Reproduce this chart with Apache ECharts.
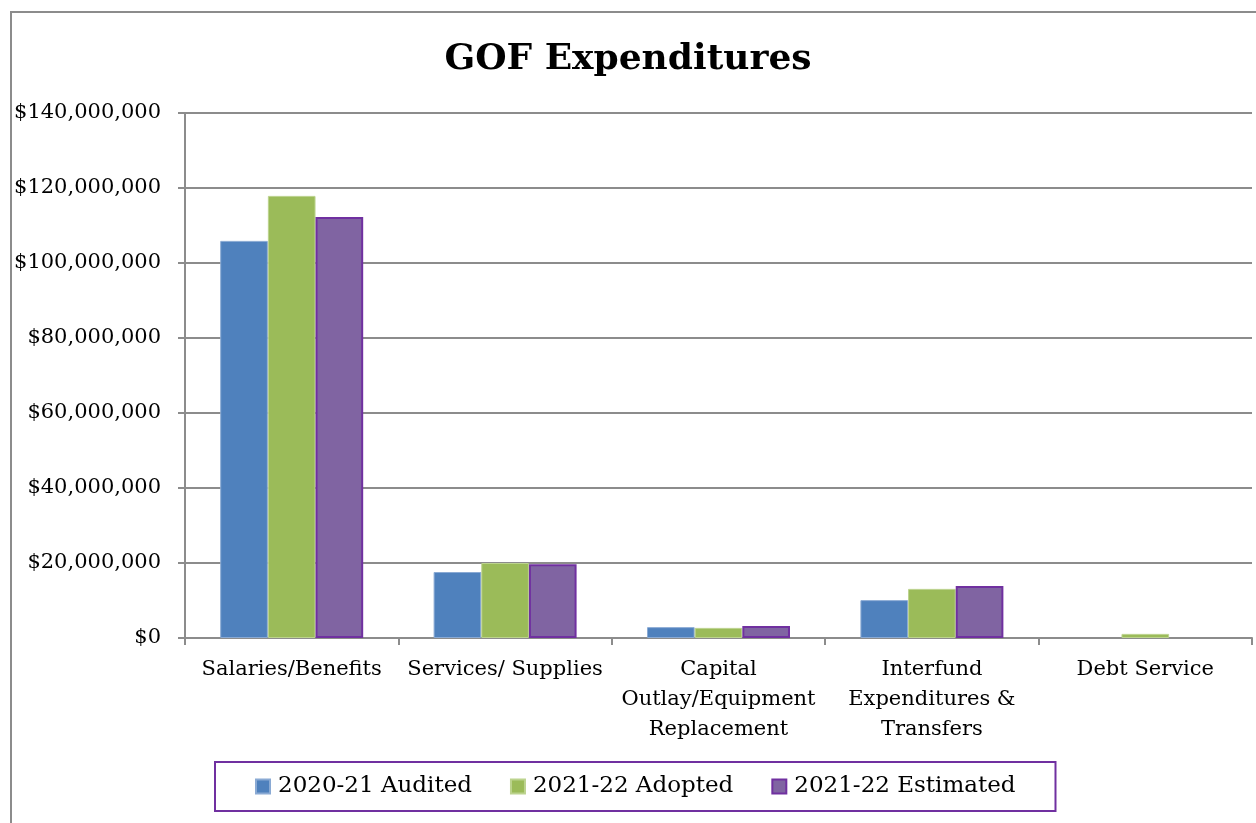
<!DOCTYPE html>
<html>
<head>
<meta charset="utf-8">
<style>
  html, body { margin: 0; padding: 0; background: #fff; }
  #chart { width: 1256px; height: 823px; }
</style>
<script src="https://cdn.jsdelivr.net/npm/echarts@6/dist/echarts.min.js"></script>
</head>
<body>
<div id="chart"></div>
<script>
const categories = [
    'Salaries/Benefits',
    'Services/ Supplies',
    'Capital\nOutlay/Equipment\nReplacement',
    'Interfund\nExpenditures &\nTransfers',
    'Debt Service',
]
const seriesNames = ['2020-21 Audited', '2021-22 Adopted', '2021-22 Estimated']
const audited = [105900000, 17600000, 2900000, 10100000, 0]
const adopted = [117900000, 20000000, 2700000, 13100000, 1100000]
const estimated = [112300000, 19700000, 3200000, 13900000, 0]
const yTicks = [0, 20000000, 40000000, 60000000, 80000000, 100000000, 120000000, 140000000]

const fontFamily = '"DejaVu Serif", "Liberation Serif", serif'
const gridColor = '#8c8c8c'

const chart = echarts.init(document.getElementById('chart'))

const formatMoney = (v) => '$' + Math.round(v).toString().replace(/\B(?=(\d{3})+(?!\d))/g, ',')
// zero values draw nothing in the original
const noZero = (arr) => arr.map((v) => (v === 0 ? null : v))

chart.setOption({
    animation: false,
    textStyle: { fontFamily },
    title: {
        text: 'GOF Expenditures',
        left: 'center',
        top: 37,
        textStyle: { fontFamily, fontSize: 36, fontWeight: 'bold', color: '#000' },
    },
    graphic: [
        {
            type: 'rect',
            shape: { x: 11, y: 12, width: 1300, height: 900 },
            style: { fill: 'none', stroke: '#8c8c8c', lineWidth: 2 },
            silent: true,
        },
    ],
    legend: {
        left: 215,
        top: 762,
        data: seriesNames,
        icon: 'rect',
        itemWidth: 14,
        itemHeight: 14,
        itemGap: 38,
        padding: [13, 40],
        borderColor: '#7030A0',
        borderWidth: 2,
        textStyle: { fontFamily, fontSize: 23, color: '#000', padding: [0, 0, 0, 3] },
    },
    grid: {
        left: 185,
        right: 4,
        top: 113,
        bottom: 185,
    },
    xAxis: {
        type: 'category',
        data: categories,
        axisLine: { lineStyle: { color: gridColor, width: 2 } },
        axisTick: { show: true, length: 7, lineStyle: { color: gridColor, width: 2 } },
        axisLabel: {
            interval: 0,
            margin: 17,
            color: '#000',
            fontFamily,
            fontSize: 21,
            lineHeight: 30,
        },
    },
    yAxis: {
        type: 'value',
        min: 0,
        max: yTicks[yTicks.length - 1],
        interval: yTicks[1] - yTicks[0],
        axisLine: { show: true, lineStyle: { color: gridColor, width: 2 } },
        axisTick: { show: true, length: 7, lineStyle: { color: gridColor, width: 2 } },
        splitLine: { lineStyle: { color: gridColor, width: 2 } },
        axisLabel: {
            margin: 24,
            color: '#000',
            fontFamily,
            fontSize: 21,
            formatter: formatMoney,
        },
    },
    series: [
        {
            name: seriesNames[0],
            type: 'bar',
            data: noZero(audited),
            barGap: '0%',
            barCategoryGap: '33%',
            itemStyle: { color: '#4F81BD', borderColor: '#8aaad4', borderWidth: 1 },
        },
        {
            name: seriesNames[1],
            type: 'bar',
            data: noZero(adopted),
            barGap: '0%',
            barCategoryGap: '33%',
            itemStyle: { color: '#9BBB59', borderColor: '#bcd38e', borderWidth: 1 },
        },
        {
            name: seriesNames[2],
            type: 'bar',
            data: noZero(estimated),
            barGap: '0%',
            barCategoryGap: '33%',
            itemStyle: { color: '#8064A2', borderColor: '#7030A0', borderWidth: 2 },
        },
    ],
})

window.addEventListener('resize', () => chart.resize())
</script>
</body>
</html>
